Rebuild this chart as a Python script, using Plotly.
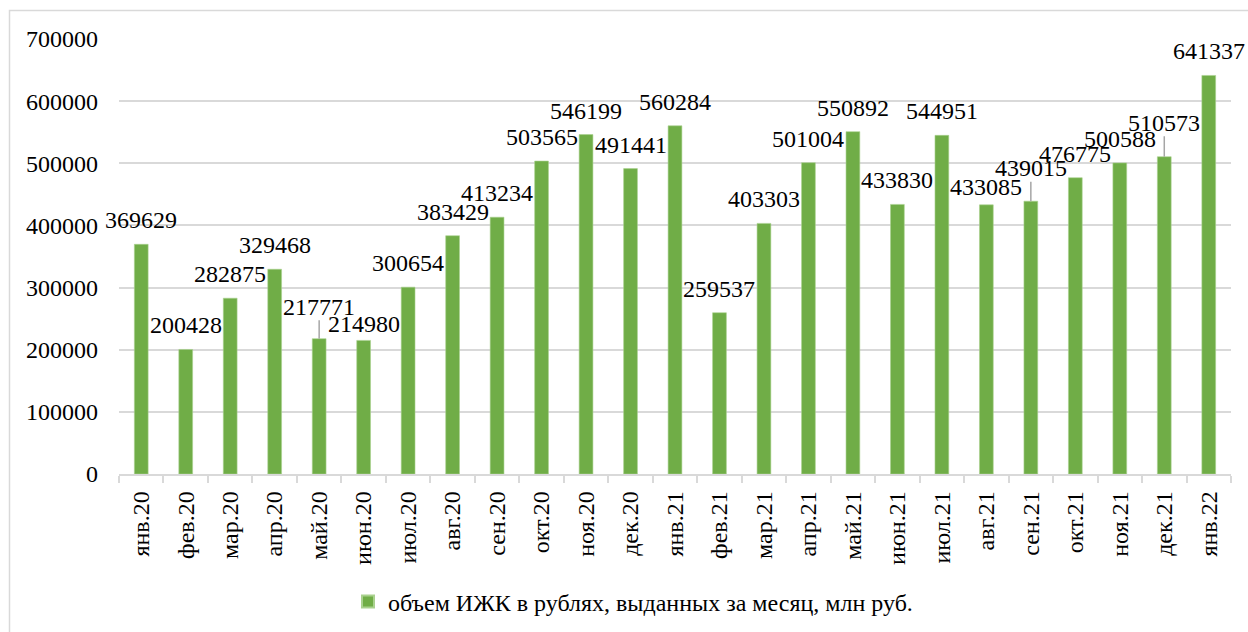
import plotly.graph_objects as go

months = ["янв.20", "фев.20", "мар.20", "апр.20", "май.20", "июн.20", "июл.20",
          "авг.20", "сен.20", "окт.20", "ноя.20", "дек.20", "янв.21", "фев.21",
          "мар.21", "апр.21", "май.21", "июн.21", "июл.21", "авг.21", "сен.21",
          "окт.21", "ноя.21", "дек.21", "янв.22"]
volume = [369629, 200428, 282875, 329468, 217771, 214980, 300654, 383429,
          413234, 503565, 546199, 491441, 560284, 259537, 403303, 501004,
          550892, 433830, 544951, 433085, 439015, 476775, 500588, 510573,
          641337]
series_name = "объем ИЖК в рублях, выданных за месяц, млн руб."
y_ticks = [0, 100000, 200000, 300000, 400000, 500000, 600000, 700000]

# label offsets above bar tops (pixels); leader lines where labels were moved
label_dy = {4: -32, 5: -16, 19: -18, 20: -33, 23: -34}
leader = {4, 20, 23}

FONT = "Liberation Serif, Times New Roman, serif"
FS = 24
GREEN = "#70AD47"
GRID = "#d9d9d9"

W, H = 1248, 632
ML, MR, MT, MB = 119, 17, 39, 158
PW, PH = W - ML - MR, H - MT - MB

fig = go.Figure()
fig.add_trace(go.Bar(
    x=months, y=volume, name=series_name,
    marker=dict(color=GREEN, line=dict(color="#a9d18e", width=0.6)),
    hoverinfo="x+y",
))

annotations = []
for i, (m, v) in enumerate(zip(months, volume)):
    dy = label_dy.get(i, -24)
    if i in leader:
        annotations.append(dict(
            x=m, y=v, xref="x", yref="y", text=str(v),
            showarrow=True, arrowhead=0, arrowwidth=1.5, arrowcolor="#a6a6a6",
            ax=0, ay=dy, standoff=0, borderpad=0,
            font=dict(family=FONT, size=FS, color="#000000"),
        ))
    else:
        annotations.append(dict(
            x=m, y=v, xref="x", yref="y", text=str(v),
            showarrow=False, yshift=-dy, yanchor="middle", xanchor="center",
            font=dict(family=FONT, size=FS, color="#000000"),
        ))

# outer chart frame
def px_x(p):
    return (p - ML) / PW

def px_y(p):
    return (H - MB - p) / PH

shapes = [dict(
    type="rect", xref="paper", yref="paper",
    x0=px_x(9.5), x1=px_x(1260), y0=px_y(645), y1=px_y(10.5),
    line=dict(color="#d9d9d9", width=1.5), fillcolor="rgba(0,0,0,0)", layer="below",
)]

fig.update_layout(
    width=W, height=H,
    margin=dict(l=ML, r=MR, t=MT, b=MB, autoexpand=False),
    paper_bgcolor="white", plot_bgcolor="white",
    font=dict(family=FONT, size=FS, color="#000000"),
    bargap=0.69,
    showlegend=True,
    legend=dict(
        orientation="h", x=px_x(633), xanchor="center", y=px_y(602), yanchor="middle",
        font=dict(family=FONT, size=FS), itemwidth=30, itemsizing="constant",
        bgcolor="rgba(0,0,0,0)",
    ),
    annotations=annotations,
    shapes=shapes,
    xaxis=dict(
        type="category", range=[-0.5, len(months) - 0.5], automargin=False,
        tickangle=-90, showgrid=False,
        showline=True, linecolor=GRID, linewidth=1.5,
        ticks="outside", ticklen=7, tickcolor=GRID, tickwidth=1.5,
        tickson="boundaries", ticklabelstandoff=6,
        tickfont=dict(family=FONT, size=FS),
    ),
    yaxis=dict(
        range=[0, 700000], tickvals=y_ticks, ticktext=[str(t) for t in y_ticks],
        automargin=False,
        showgrid=True, gridcolor=GRID, gridwidth=1.5,
        zeroline=False, showline=False, ticks="", ticklabelstandoff=20,
        tickfont=dict(family=FONT, size=FS),
    ),
)

fig.write_html("out.html")
